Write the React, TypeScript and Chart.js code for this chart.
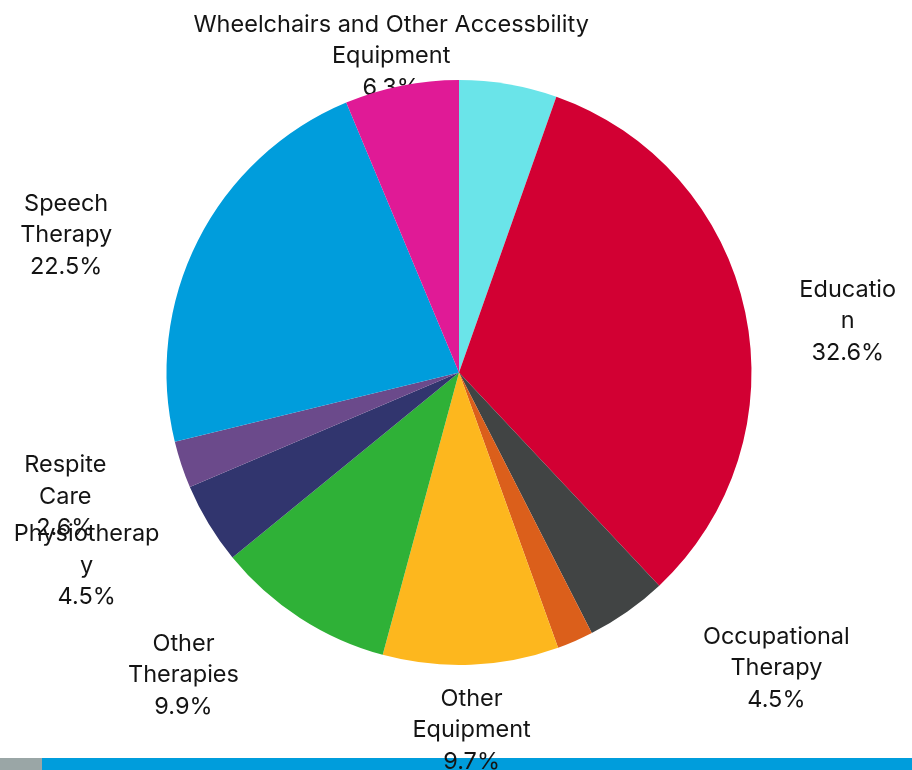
import { useEffect, useRef } from 'react';
import { Chart, registerables } from 'chart.js';

Chart.register(...registerables);

// ---- data ----
const categories = [
  '',
  'Education',
  'Occupational Therapy',
  '',
  'Other Equipment',
  'Other Therapies',
  'Physiotherapy',
  'Respite Care',
  'Speech Therapy',
  'Wheelchairs and Other Accessbility Equipment',
];
const shares = [5.4, 32.6, 4.5, 2.0, 9.7, 9.9, 4.5, 2.6, 22.5, 6.3];
// label text as wrapped in the picture
const labelLines: string[][] = [
  [],
  ['Educatio', 'n'],
  ['Occupational', 'Therapy'],
  [],
  ['Other', 'Equipment'],
  ['Other', 'Therapies'],
  ['Physiotherap', 'y'],
  ['Respite', 'Care'],
  ['Speech', 'Therapy'],
  ['Wheelchairs and Other Accessbility', 'Equipment'],
];

// ---- styles / layout ----
const sliceColors = [
  '#6ae4e9',
  '#d20033',
  '#414444',
  '#db5f1b',
  '#fdb71e',
  '#2fb137',
  '#31356e',
  '#6b4a8b',
  '#009ddc',
  '#e01a96',
];
// label anchor (text centre x, first baseline y) relative to pie centre, in radius units
const labelOffsets: (number[] | null)[] = [
  null,
  [1.329, -0.259],
  [1.085, 0.928],
  null,
  [0.043, 1.14],
  [-0.942, 0.952],
  [-1.273, 0.577],
  [-1.346, 0.341],
  [-1.343, -0.553],
  [-0.232, -1.165],
];
const FONT = '23.5px Inter';
const LINE_H = 31.5;

const labelPlugin = {
  id: 'outerLabels',
  beforeDatasetsDraw(chart: any) {
    const ctx = chart.ctx;
    const meta = chart.getDatasetMeta(0);
    const data = chart.data.datasets[0].data as number[];
    ctx.save();
    ctx.font = FONT;
    ctx.fillStyle = '#141414';
    ctx.textAlign = 'center';
    ctx.textBaseline = 'alphabetic';
    meta.data.forEach((arc: any, i: number) => {
      const off = labelOffsets[i];
      if (!off || !labelLines[i].length) return;
      const r = arc.outerRadius;
      const x = arc.x + off[0] * r;
      let y = arc.y + off[1] * r;
      const lines = [...labelLines[i], data[i].toFixed(1) + '%'];
      lines.forEach((ln) => {
        ctx.fillText(ln, x, y);
        y += LINE_H;
      });
    });
    ctx.restore();
  },
};

export default function App() {
  const ref = useRef<HTMLCanvasElement | null>(null);
  useEffect(() => {
    if (!ref.current) return;
    const chart = new Chart(ref.current, {
      type: 'pie',
      data: {
        labels: categories,
        datasets: [
          {
            data: shares,
            backgroundColor: sliceColors,
            borderWidth: 0,
          },
        ],
      },
      options: {
        animation: false,
        responsive: true,
        maintainAspectRatio: false,
        layout: { padding: { top: 80, bottom: 105, left: 6, right: 0 } },
        plugins: {
          legend: { display: false },
          tooltip: { enabled: false },
        },
      },
      plugins: [labelPlugin],
    });
    return () => chart.destroy();
  }, []);

  return (
    <div
      style={{
        position: 'fixed',
        left: 0,
        top: 0,
        width: 912,
        height: 770,
        background: '#ffffff',
        overflow: 'hidden',
      }}
    >
      <div style={{ position: 'absolute', left: 0, top: 758, width: 42, height: 12, background: '#9aa6a6' }} />
      <div style={{ position: 'absolute', left: 42, top: 758, width: 870, height: 12, background: '#009ddc' }} />
      <div style={{ position: 'absolute', left: 0, top: 0, width: 912, height: 770 }}>
        <canvas ref={ref} />
      </div>
    </div>
  );
}
